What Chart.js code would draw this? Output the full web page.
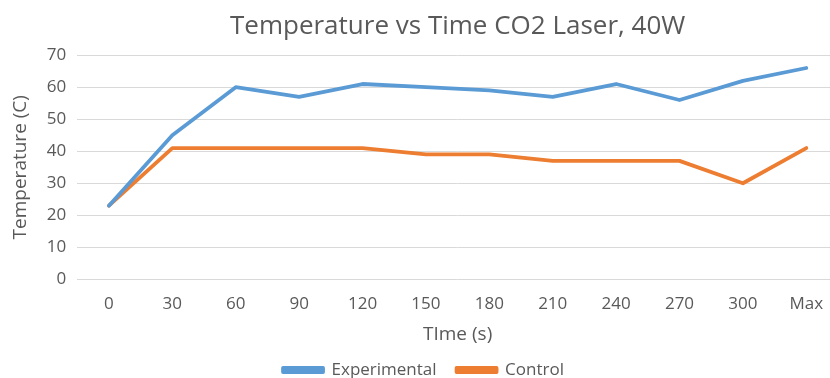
<!DOCTYPE html>
<html>
<head>
<meta charset="utf-8">
<script src="https://cdn.jsdelivr.net/npm/chart.js@4"></script>
<style>
html,body{margin:0;padding:0;background:#fff;overflow:hidden;width:830px;height:378px;}
canvas{display:block;}
</style>
</head>
<body>
<canvas id="c" width="840" height="378"></canvas>
<script>
const categories = ["0","30","60","90","120","150","180","210","240","270","300","Max"];
const experimental = [23,45,60,57,61,60,59,57,61,56,62,66];
const control = [23,41,41,41,41,39,39,37,37,37,30,41];
const yTicks = [0,10,20,30,40,50,60,70];

const FONT = "'Open Sans', Lato, sans-serif";
const GREY = "#595959";

new Chart(document.getElementById('c'), {
  type: 'line',
  data: {
    labels: categories,
    datasets: [
      {label:'Experimental', data: experimental, borderColor:'#5B9BD5', backgroundColor:'#5B9BD5', borderWidth:3.8, pointRadius:0, tension:0, borderCapStyle:'round', borderJoinStyle:'round'},
      {label:'Control', data: control, borderColor:'#ED7D31', backgroundColor:'#ED7D31', borderWidth:3.8, pointRadius:0, tension:0, borderCapStyle:'round', borderJoinStyle:'round'}
    ]
  },
  options: {
    responsive:false,
    animation:false,
    layout:{padding:{left:9,right:2,top:4,bottom:-10.5}},
    plugins:{
      title:{display:true,fullSize:false,text:'Temperature vs Time CO2 Laser, 40W',color:GREY,font:{family:FONT,size:26,weight:'normal'},padding:{top:7,bottom:13}},
      legend:{position:'bottom',labels:{color:GREY,font:{family:FONT,size:17},boxWidth:40,boxHeight:4,padding:20}},
      tooltip:{enabled:false}
    },
    scales:{
      x:{
        offset:true,
        grid:{display:false},
        border:{display:false},
        ticks:{color:GREY,font:{family:FONT,size:17},padding:7,maxRotation:0},
        title:{display:true,text:'TIme (s)',color:GREY,font:{family:FONT,size:19},padding:{top:1,bottom:-4}}
      },
      y:{
        min:0,max:70,
        afterBuildTicks:(ax)=>{ax.ticks = yTicks.map(v=>({value:v}));},
        grid:{color:'#d9d9d9',lineWidth:1,drawTicks:false},
        border:{display:false},
        ticks:{color:GREY,font:{family:FONT,size:17},padding:11},
        title:{display:true,text:'Temperature (C)',color:GREY,font:{family:FONT,size:19},padding:{top:0,bottom:4}}
      }
    }
  }
});
</script>
</body>
</html>
